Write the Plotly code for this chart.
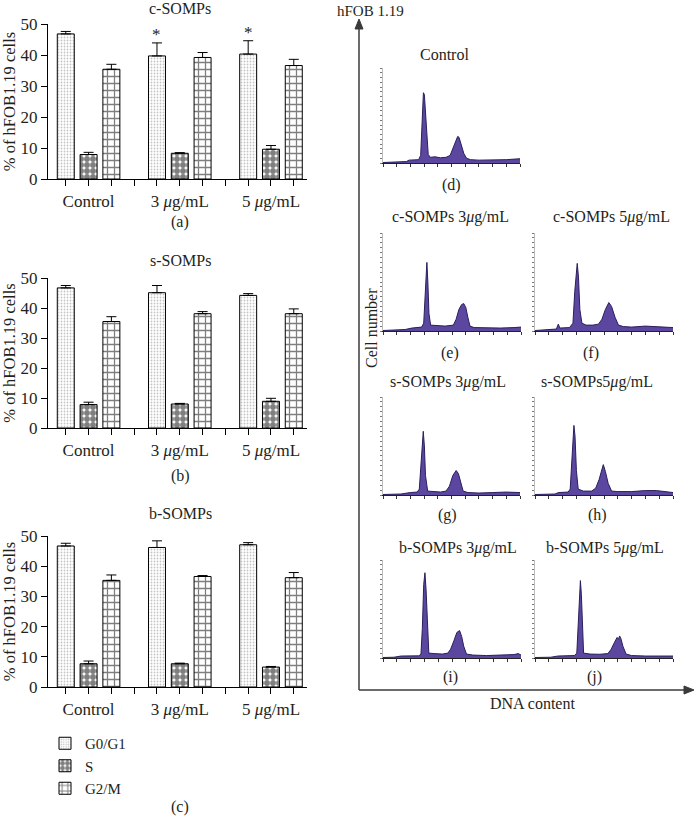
import plotly.graph_objects as go

# ---------------- data: bar charts ----------------
groups = ["Control", "3 <i>μ</i>g/mL", "5 <i>μ</i>g/mL"]
phases = ["G0/G1", "S", "G2/M"]

c_g0 = [46.8, 39.7, 40.3]
c_g0_err = [0.8, 4.2, 4.3]
c_s = [7.9, 8.3, 9.6]
c_s_err = [0.7, 0.2, 1.2]
c_g2 = [35.4, 39.2, 36.6]
c_g2_err = [1.6, 1.6, 2.0]
c_sig = [False, True, True]

s_g0 = [46.7, 45.1, 44.2]
s_g0_err = [0.8, 2.4, 0.6]
s_s = [7.8, 8.0, 8.9]
s_s_err = [0.8, 0.2, 1.0]
s_g2 = [35.5, 38.1, 38.1]
s_g2_err = [1.6, 0.7, 1.6]
s_sig = [False, False, False]

b_g0 = [46.7, 46.2, 47.1]
b_g0_err = [0.9, 2.2, 0.7]
b_s = [7.7, 7.7, 6.6]
b_s_err = [0.9, 0.2, 0.2]
b_g2 = [35.3, 36.6, 36.2]
b_g2_err = [1.8, 0.3, 1.7]
b_sig = [False, False, False]

y_ticks = [0, 10, 20, 30, 40, 50]

# ---------------- data: DNA histograms (channel %, count %) ----------------
d_x = [0, 10, 17, 19, 26, 27.5, 28.5, 29.5, 30.2, 31, 32, 33, 34.5, 38, 42, 46, 49, 51, 53, 54.5, 55.5, 57, 59, 61, 64, 70, 80, 90, 100]
d_y = [0.5, 0.8, 1.5, 3, 3.5, 8, 45, 74, 72, 55, 25, 9, 6, 6.5, 5.5, 6, 8, 15, 24, 28, 27, 20, 10, 5, 3.5, 3, 3, 3.5, 4.5]

e_x = [0, 10, 16, 21, 28, 29.5, 30.5, 31.3, 31.8, 32.5, 33.3, 34.5, 38, 45, 51, 53, 55, 57, 58.5, 60, 61.5, 63, 66, 75, 85, 95, 100]
e_y = [0.5, 0.8, 1.5, 3, 4, 8, 40, 66, 70, 50, 18, 6, 5.5, 5, 6, 12, 22, 27, 28, 24, 14, 5, 3.5, 3, 3, 3.5, 4]

f_x = [0, 10, 15.5, 16.9, 18, 25, 27.5, 28.8, 30, 30.6, 31.5, 32.5, 34, 37, 42, 46, 48.5, 51, 53.5, 55.5, 58, 60.5, 64, 70, 80, 90, 100]
f_y = [0.5, 1, 2, 7, 3, 3.5, 8, 40, 65, 69, 55, 22, 8, 6, 6, 7, 12, 22, 29, 25, 14, 6, 4.5, 4, 5, 4.5, 3.5]

g_x = [0, 13, 20, 25, 26.5, 27.8, 28.8, 29.4, 30.2, 31, 32.6, 36, 42, 46, 48.5, 51, 53.4, 55, 56.5, 58.5, 62, 70, 80, 90, 100]
g_y = [0.5, 1, 2.5, 3, 6, 30, 58, 65, 50, 20, 4, 3.5, 3, 4, 9, 20, 25, 22, 14, 4, 2.5, 2, 2.5, 3, 2.5]

h_x = [0, 14.5, 17, 24, 25.5, 26.6, 27.6, 28.2, 29, 30, 31.3, 35, 41, 44, 46.5, 48.5, 49.5, 51, 53, 55.5, 60, 70, 80, 88, 95, 100]
h_y = [0.5, 1, 2.5, 3, 6, 35, 62, 71, 60, 25, 6, 4, 4, 7, 16, 27, 31, 24, 12, 4, 3.5, 3.5, 4.5, 4.5, 3, 2.5]

i_x = [0, 8, 13, 26, 27.5, 28.5, 29.5, 30.4, 31.2, 32, 33.2, 37, 43, 47, 49, 51.5, 53.5, 55.5, 57, 58.5, 60.5, 65, 75, 85, 95, 98, 100]
i_y = [0.5, 0.8, 2, 2.2, 4, 30, 75, 87, 70, 35, 5, 4.5, 4, 5, 9, 18, 26, 28, 22, 12, 4, 3, 2.5, 3, 3.5, 4.5, 3]

j_x = [0, 11.5, 16.5, 28.5, 30.3, 31.5, 32.4, 32.9, 33.6, 34.3, 35.2, 40, 47, 52.8, 55.2, 57.6, 59.5, 60.5, 61.3, 62.2, 63.7, 66, 70, 80, 90, 100]
j_y = [0.5, 0.8, 2, 2.5, 5, 40, 72, 79, 65, 30, 5, 4, 3.8, 4.5, 9, 16, 21, 19, 22.5, 20, 12, 4, 2.5, 2, 2, 2]

hist_titles = ["Control", "c-SOMPs 3<i>μ</i>g/mL", "c-SOMPs 5<i>μ</i>g/mL",
               "s-SOMPs 3<i>μ</i>g/mL", "s-SOMPs5<i>μ</i>g/mL",
               "b-SOMPs 3<i>μ</i>g/mL", "b-SOMPs 5<i>μ</i>g/mL"]
hist_labels = ["(d)", "(e)", "(f)", "(g)", "(h)", "(i)", "(j)"]

# ---------------- layout helpers ----------------
W, H = 695, 816
FONT = "Liberation Serif"
TXT = "#231f20"


def fx(p):
    return p / W


def fy(p):
    return 1 - p / H


def label(x, y, text, size=16, **kw):
    d = dict(x=fx(x), y=fy(y), xref="paper", yref="paper", text=text, showarrow=False,
             xanchor="center", yanchor="middle", font=dict(family=FONT, size=size, color=TXT))
    d.update(kw)
    return d


fig = go.Figure()
annotations = []
layout_axes = {}

patterns = [
    dict(shape=".", fgcolor="#8a8a8a", bgcolor="white", size=3, solidity=0.28),
    dict(shape=".", fgcolor="black", bgcolor="white", size=6, solidity=0.74),
    dict(shape="+", fgcolor="#000000", bgcolor="white", size=7, solidity=0.33),
]

bar_panels = [
    ("c-SOMPs", "(a)", [c_g0, c_s, c_g2], [c_g0_err, c_s_err, c_g2_err], c_sig, (24, 179), 9, 222),
    ("s-SOMPs", "(b)", [s_g0, s_s, s_g2], [s_g0_err, s_s_err, s_g2_err], s_sig, (278, 428), 260, 476),
    ("b-SOMPs", "(c)", [b_g0, b_s, b_g2], [b_g0_err, b_s_err, b_g2_err], b_sig, (536, 687), 513, 807),
]

offsets = [-1, 0, 1]
group_step = 4
tickvals = []
ticktext = []
for g in range(len(groups)):
    for off in offsets:
        tickvals.append(group_step * g + off)
        ticktext.append(groups[g] if off == 0 else "")
    if g < len(groups) - 1:
        tickvals.append(group_step * g + 2)
        ticktext.append("")

for k, (title, lab, series, errs, sig, (top, bot), ty, ly) in enumerate(bar_panels, start=1):
    xa, ya = f"x{k}", f"y{k}"
    for s in range(3):
        xs = [group_step * g + offsets[s] for g in range(len(groups))]
        fig.add_trace(go.Bar(
            x=xs, y=series[s], width=0.745, name=phases[s],
            showlegend=(k == 1), legendgroup=phases[s],
            marker=dict(color="white", line=dict(color="black", width=1), pattern=patterns[s]),
            error_y=dict(type="data", symmetric=False, array=errs[s], arrayminus=[0] * len(errs[s]),
                         color="black", thickness=1, width=5),
            xaxis=xa, yaxis=ya,
        ))
        for g in range(len(groups)):
            if s == 0 and sig[g]:
                annotations.append(dict(x=xs[g], y=series[s][g] + errs[s][g], xref=xa, yref=ya,
                                        text="*", showarrow=False, xanchor="center", yanchor="bottom",
                                        yshift=-3, font=dict(family=FONT, size=17, color=TXT)))
    key = "" if k == 1 else str(k)
    layout_axes["xaxis" + key] = dict(
        domain=[fx(48), fx(307)], range=[-1.78, 9.58], anchor=ya, automargin=False,
        tickvals=tickvals, ticktext=ticktext, ticks="outside", ticklen=6, tickwidth=1,
        tickcolor="black", showline=True, linecolor="black", linewidth=1.3,
        showgrid=False, zeroline=False, tickfont=dict(family=FONT, size=17, color=TXT),
    )
    layout_axes["yaxis" + key] = dict(
        domain=[fy(bot), fy(top)], range=[0, 50], anchor=xa, automargin=False,
        tickvals=y_ticks, ticks="outside", ticklen=6, tickwidth=1, tickcolor="black",
        showline=True, linecolor="black", linewidth=1.3, showgrid=False, zeroline=False,
        tickfont=dict(family=FONT, size=17, color=TXT),
        title=dict(text="% of hFOB1.19 cells", font=dict(family=FONT, size=16.5, color=TXT)),
    )
    annotations.append(label(180, ty, title, 16))
    annotations.append(label(180, ly, lab, 16))

# ---------------- histograms ----------------
hist_data = [(d_x, d_y), (e_x, e_y), (f_x, f_y), (g_x, g_y), (h_x, h_y), (i_x, i_y), (j_x, j_y)]
hist_boxes = [(383, 520, 68, 163), (383, 521, 233, 331), (535, 673, 233, 331),
              (383, 520, 397, 495), (535, 673, 397, 495),
              (383, 521, 560, 658), (535, 673, 560, 658)]
hist_title_pos = [(444, 55), (450, 217), (611, 217), (448, 382), (597, 382), (458, 548), (605, 548)]
hist_label_pos = [(451, 185), (450, 353), (591, 353), (448, 515), (597, 515), (450, 677), (594, 677)]

for n, ((hx, hy), (x0, x1, y0, y1)) in enumerate(zip(hist_data, hist_boxes)):
    k = n + 4
    xa, ya = f"x{k}", f"y{k}"
    fig.add_trace(go.Scatter(
        x=hx, y=hy, mode="lines", fill="tozeroy", fillcolor="#5b479f",
        line=dict(color="#2a1f5c", width=1), showlegend=False, hoverinfo="skip",
        xaxis=xa, yaxis=ya,
    ))
    layout_axes[f"xaxis{k}"] = dict(
        domain=[fx(x0), fx(x1)], range=[0, 100], anchor=ya, showticklabels=False, automargin=False,
        ticks="outside", ticklen=3, dtick=10, tickcolor="#333", showline=True,
        linecolor="#222", linewidth=1.2, showgrid=False, zeroline=False,
    )
    layout_axes[f"yaxis{k}"] = dict(
        domain=[fy(y1), fy(y0)], range=[0, 100], anchor=xa, showticklabels=False, automargin=False,
        ticks="outside", ticklen=2, dtick=5, tickcolor="#777", showline=True,
        linecolor="#bbbbbb", linewidth=1, showgrid=False, zeroline=False,
    )
    tx, tyy = hist_title_pos[n]
    annotations.append(label(tx, tyy, hist_titles[n], 16))
    lx, lyy = hist_label_pos[n]
    annotations.append(label(lx, lyy, hist_labels[n], 16))

# big axes with arrows (decoration)
AX = "#3a3a3a"
shapes = [
    dict(type="line", xref="paper", yref="paper", x0=fx(359), y0=fy(690), x1=fx(359), y1=fy(27),
         line=dict(color=AX, width=1.5)),
    dict(type="line", xref="paper", yref="paper", x0=fx(359), y0=fy(690), x1=fx(686), y1=fy(690),
         line=dict(color=AX, width=1.5)),
    dict(type="path", xref="paper", yref="paper", fillcolor=AX, line=dict(color=AX, width=1),
         path=f"M {fx(359)} {fy(19)} L {fx(355)} {fy(29)} L {fx(363)} {fy(29)} Z"),
    dict(type="path", xref="paper", yref="paper", fillcolor=AX, line=dict(color=AX, width=1),
         path=f"M {fx(694)} {fy(690)} L {fx(684)} {fy(686)} L {fx(684)} {fy(694)} Z"),
]
annotations.append(label(370, 11, "hFOB 1.19", 15))
annotations.append(label(371, 328, "Cell number", 16, textangle=-90))
annotations.append(label(532, 703, "DNA content", 16))

fig.update_layout(
    width=W, height=H, margin=dict(l=0, r=0, t=0, b=0, pad=0),
    paper_bgcolor="white", plot_bgcolor="white", barmode="overlay",
    annotations=annotations, shapes=shapes,
    legend=dict(x=fx(45), y=fy(727), xanchor="left", yanchor="top",
                font=dict(family=FONT, size=15, color=TXT), tracegroupgap=0,
                bgcolor="rgba(0,0,0,0)"),
    **layout_axes,
)

fig.write_html("out.html", config={"displayModeBar": False},
               post_script="document.body.style.margin='0px';")
